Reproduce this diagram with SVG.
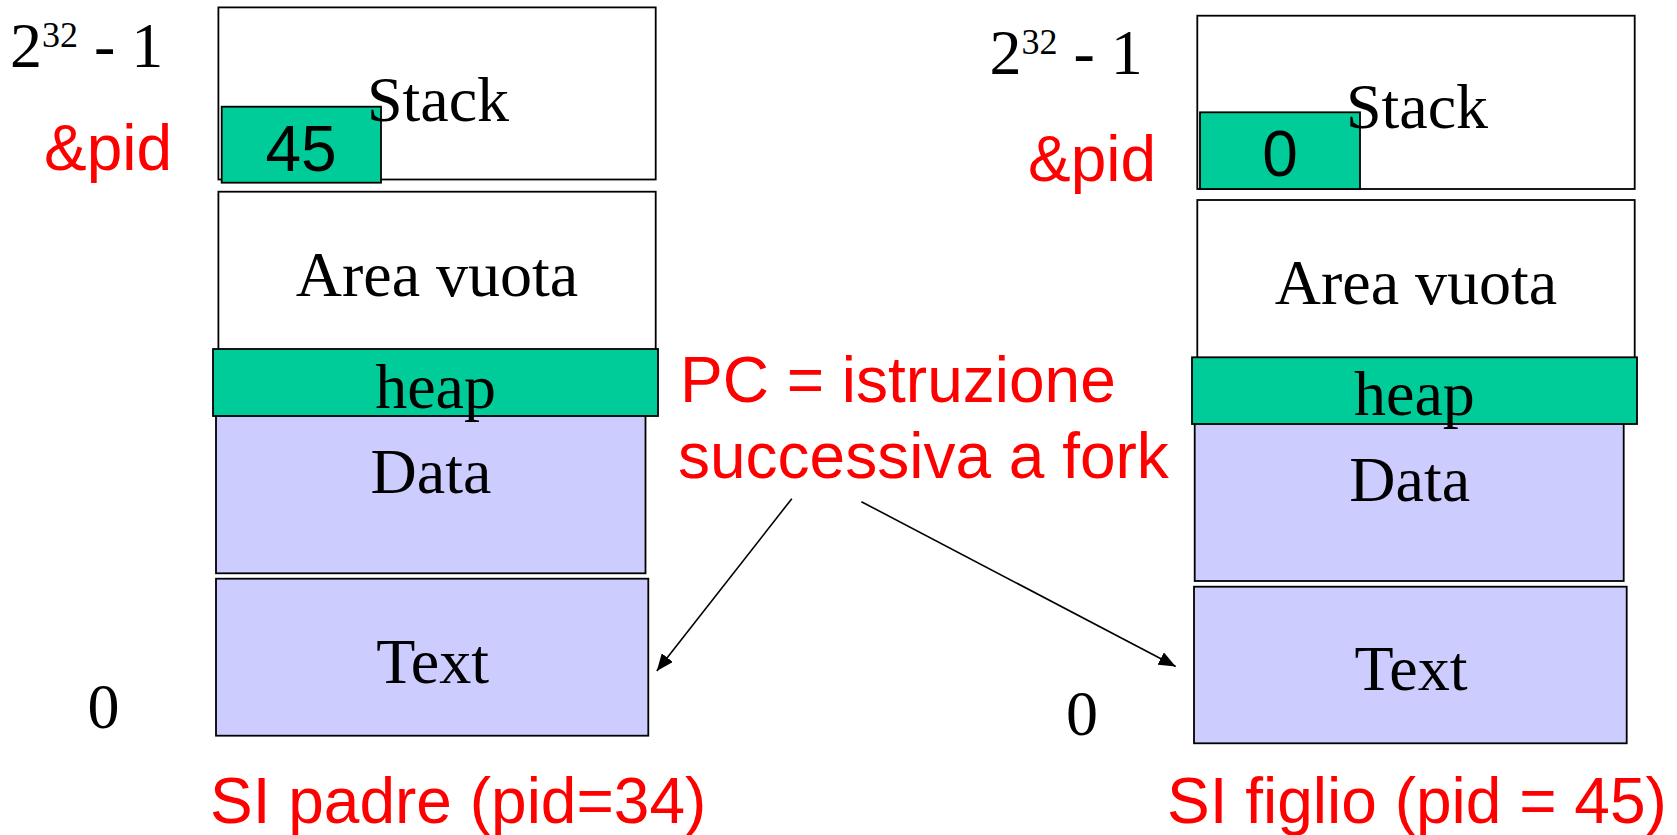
<svg xmlns="http://www.w3.org/2000/svg" width="1677" height="835" viewBox="0 0 1677 835">
<style>
  .box{stroke:#000;stroke-width:1.8}
  .white{fill:#fff}
  .green{fill:#00CC99}
  .lav{fill:#CCCCFF}
  .serif{font-family:"Liberation Serif","Times New Roman",serif;font-size:64px;fill:#000}
  .sans{font-family:"Liberation Sans",Arial,sans-serif;font-size:64px}
  .red{fill:#FF0000}
  .blk{fill:#000}
  .mid{text-anchor:middle}
  .conn{stroke:#000;stroke-width:1.6;fill:none}
</style>
<defs>
  <marker id="arrow" markerUnits="userSpaceOnUse" markerWidth="18" markerHeight="14" refX="17" refY="7" orient="auto">
    <path d="M0,0 L17,7 L0,14 z" fill="#000"/>
  </marker>
</defs>
<rect width="1677" height="835" fill="#fff"/>

<!-- Left address space (parent) -->
<g id="parent">
  <g id="p-stack">
    <rect class="box white" x="218.4" y="7.4" width="437.3" height="172.1"/>
    <rect class="box green" x="221.7" y="106.7" width="159.3" height="76"/>
    <text class="serif mid" x="438" y="121">Stack</text>
    <text class="sans blk mid" x="301" y="170.5">45</text>
  </g>
  <g id="p-area">
    <rect class="box white" x="218.4" y="191.7" width="437.3" height="170"/>
    <text class="serif mid" x="437" y="296">Area vuota</text>
  </g>
  <g id="p-data">
    <rect class="box lav" x="216" y="400" width="429.5" height="173.3"/>
    <text class="serif mid" x="431" y="493.3">Data</text>
  </g>
  <g id="p-text">
    <rect class="box lav" x="216" y="578.7" width="432.3" height="157"/>
    <text class="serif mid" x="432.6" y="683.3">Text</text>
  </g>
  <g id="p-heap">
    <rect class="box green" x="213" y="349" width="445" height="67"/>
    <text class="serif mid" x="435.6" y="407.5">heap</text>
  </g>
  <g id="p-labels">
    <text class="serif" x="10" y="66.7">2<tspan font-size="36" dy="-20">32</tspan><tspan dy="20"> - 1</tspan></text>
    <text class="sans red" x="44" y="170">&amp;pid</text>
    <text class="serif" x="87.5" y="728.3">0</text>
    <text class="sans red" x="210" y="822.7">SI padre (pid=34)</text>
  </g>
</g>

<!-- Right address space (child) -->
<g id="child">
  <g id="c-stack">
    <rect class="box white" x="1197.3" y="15.7" width="437.4" height="173.3"/>
    <rect class="box green" x="1200" y="112.3" width="160" height="76.7"/>
    <text class="serif mid" x="1417" y="128.3">Stack</text>
    <text class="sans blk mid" x="1280" y="175.5">0</text>
  </g>
  <g id="c-area">
    <rect class="box white" x="1197.3" y="200" width="437.4" height="170"/>
    <text class="serif mid" x="1416" y="304">Area vuota</text>
  </g>
  <g id="c-data">
    <rect class="box lav" x="1194.7" y="410" width="429" height="171"/>
    <text class="serif mid" x="1409.7" y="501">Data</text>
  </g>
  <g id="c-text">
    <rect class="box lav" x="1194" y="586.7" width="432.7" height="156.6"/>
    <text class="serif mid" x="1411" y="690">Text</text>
  </g>
  <g id="c-heap">
    <rect class="box green" x="1192" y="357.3" width="445" height="66.7"/>
    <text class="serif mid" x="1414.4" y="415">heap</text>
  </g>
  <g id="c-labels">
    <text class="serif" x="989.5" y="74">2<tspan font-size="36" dy="-20">32</tspan><tspan dy="20"> - 1</tspan></text>
    <text class="sans red" x="1028" y="180.5">&amp;pid</text>
    <text class="serif" x="1066" y="735">0</text>
    <text class="sans red" x="1167" y="822.7">SI figlio (pid = 45)</text>
  </g>
</g>

<!-- PC label -->
<g id="pc-note">
  <text class="sans red" x="680" y="401.7">PC = istruzione</text>
  <text class="sans red" x="678" y="478.3">successiva a fork</text>
</g>

<!-- Connectors -->
<g id="connectors">
  <line class="conn" x1="791.8" y1="498.7" x2="656.8" y2="671" marker-end="url(#arrow)"/>
  <line class="conn" x1="861.4" y1="501.7" x2="1175.7" y2="666.5" marker-end="url(#arrow)"/>
</g>
</svg>
